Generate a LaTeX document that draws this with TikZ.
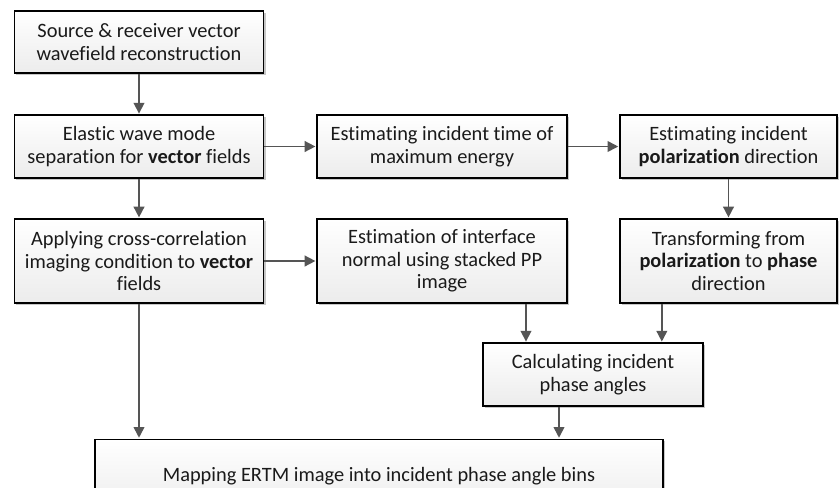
\documentclass[tikz,border=0pt]{standalone}
\usepackage{fontspec}
\setmainfont{Carlito}[Ligatures=NoCommon]
\usetikzlibrary{arrows.meta,shadows}

\definecolor{arrowgray}{HTML}{555555}
\definecolor{boxbottom}{HTML}{ECECEC}
\definecolor{textblack}{HTML}{1A1A1A}

\tikzset{
  stepbox/.style={
    draw=black, line width=1.2pt, rectangle, align=center,
    top color=white, bottom color=boxbottom,
    text=textblack, inner sep=2pt,
    font=\fontsize{15.3pt}{16.8pt}\selectfont,
    drop shadow={shadow xshift=1.6pt, shadow yshift=-1.6pt, opacity=0.22, fill=black}
  },
  arr/.style={draw=arrowgray, line width=1.2pt,
    -{Triangle[length=8pt, width=8pt]}, shorten >=0.6pt}
}

\begin{document}
\begin{tikzpicture}[x=0.75pt, y=-0.75pt]
  \clip (0,0) rectangle (840,487);
  \fill[white] (0,0) rectangle (840,487);

  % first row
  \node[stepbox, minimum width=187pt, minimum height=46.5pt] (b1) at (139,42)
    {Source \& receiver vector\\wavefield reconstruction};
  \node[stepbox, minimum width=187pt, minimum height=47pt] (b2) at (139,146.5)
    {Elastic wave mode\\separation for \textbf{vector} fields};
  \node[stepbox, minimum width=187.5pt, minimum height=47pt] (b3) at (442,146.5)
    {Estimating incident time of\\maximum energy};
  \node[stepbox, minimum width=163pt, minimum height=47pt] (b4) at (728.5,146.5)
    {Estimating incident\\\textbf{polarization} direction};

  % second row
  \node[stepbox, minimum width=187pt, minimum height=63pt] (b5) at (139,261)
    {Applying cross-correlation\\imaging condition to \textbf{vector}\\fields};
  \node[stepbox, minimum width=187.5pt, minimum height=63pt] (b6) at (442,261)
    {Estimation of interface\\normal using stacked PP\\image};
  \node[stepbox, minimum width=163pt, minimum height=63pt] (b7) at (728.5,261)
    {Transforming from\\\textbf{polarization} to \textbf{phase}\\direction};

  % third and fourth rows
  \node[stepbox, minimum width=165pt, minimum height=47pt] (b8) at (593,374.5)
    {Calculating incident\\phase angles};
  \node[stepbox, minimum width=426pt, minimum height=55pt] (b9) at (379,476)
    {Mapping ERTM image into incident phase angle bins};

  % connectors
  \draw[arr] (b1) -- (b2);
  \draw[arr] (b2) -- (b5);
  \draw[arr] (b2) -- (b3);
  \draw[arr] (b3) -- (b4);
  \draw[arr] (b4) -- (b7);
  \draw[arr] (b5) -- (b6);
  \draw[arr] ([xshift=63pt]b6.south) -- ([xshift=63pt]b6.south |- b8.north);
  \draw[arr] ([xshift=-50pt]b7.south) -- ([xshift=-50pt]b7.south |- b8.north);
  \draw[arr] ([xshift=-25.5pt]b8.south) -- ([xshift=-25.5pt]b8.south |- b9.north);
  \draw[arr] (b5.south) -- (b5.south |- b9.north);
\end{tikzpicture}
\end{document}
